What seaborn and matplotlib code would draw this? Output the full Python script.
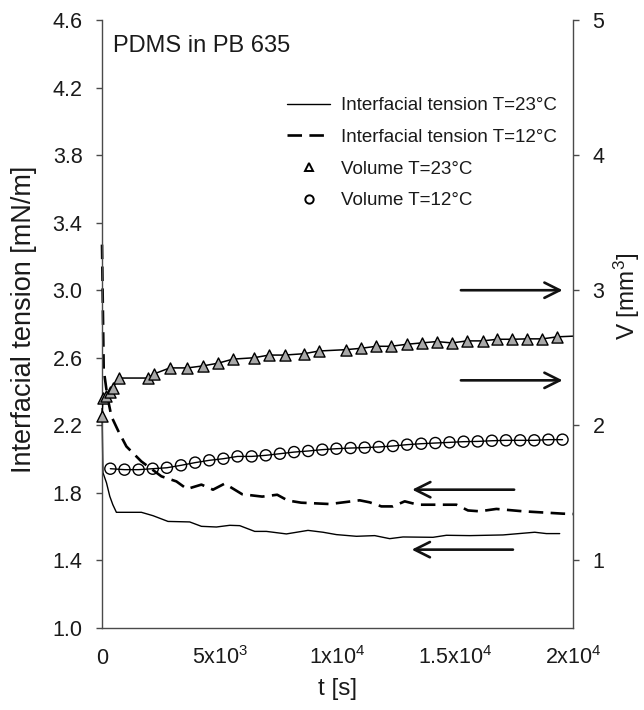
import numpy as np
import pandas as pd
import matplotlib
matplotlib.use("Agg")
import matplotlib.pyplot as plt
import seaborn as sns
from matplotlib.lines import Line2D

# ---------------- data ----------------
# Interfacial tension, T = 23 C (solid line, left axis)
ift23_t = [0, 40, 190, 330, 460, 611, 1673, 2166, 2803, 3724, 4221, 4858, 5423,
           5848, 6485, 6981, 7830, 8747, 9384, 9953, 10803, 11580, 12216, 12781,
           14055, 14624, 15614, 17028, 18374, 18871, 19435]
ift23_v = [2.30, 1.92, 1.86, 1.78, 1.73, 1.685, 1.685, 1.665, 1.631, 1.628, 1.602,
           1.598, 1.608, 1.606, 1.572, 1.572, 1.557, 1.578, 1.567, 1.553, 1.543,
           1.547, 1.529, 1.539, 1.537, 1.549, 1.547, 1.551, 1.567, 1.559, 1.559]

# Interfacial tension, T = 12 C (dashed line, left axis)
ift12_t = [0, 72, 229, 399, 679, 1036, 1673, 2522, 3159, 3609, 4221, 4713, 5210,
           5953, 6803, 7440, 7885, 8459, 9669, 10943, 11368, 11864, 12357, 12854,
           13418, 15049, 15541, 16038, 16747, 17877, 19575, 20000]
ift12_v = [3.27, 2.53, 2.37, 2.253, 2.17, 2.075, 1.986, 1.898, 1.868, 1.823, 1.849,
           1.819, 1.855, 1.792, 1.778, 1.789, 1.755, 1.742, 1.734, 1.756, 1.744,
           1.72, 1.72, 1.75, 1.730, 1.730, 1.696, 1.691, 1.705, 1.691, 1.677, 1.675]

# Volume, T = 23 C (triangles, right axis)
vol23_t = [0, 40, 185, 325, 465, 710, 1955, 2200, 2880, 3630, 4290, 4930, 5560,
           6440, 7090, 7750, 8570, 9210, 10340, 11000, 11640, 12270, 12940, 13580,
           14210, 14860, 15500, 16160, 16790, 17430, 18060, 18700, 19330]
vol23_v = [2.07, 2.20, 2.22, 2.25, 2.28, 2.35, 2.35, 2.38, 2.425, 2.425, 2.44, 2.46,
           2.49, 2.50, 2.52, 2.52, 2.53, 2.55, 2.56, 2.57, 2.585, 2.585, 2.60, 2.61,
           2.62, 2.61, 2.625, 2.625, 2.637, 2.637, 2.64, 2.64, 2.655]
# line drawn through the triangles runs on to the right edge
vol23_line_t = vol23_t + [20000]
vol23_line_v = vol23_v + [2.66]

# Volume, T = 12 C (circles, right axis)
vol12_t = [355, 955, 1555, 2155, 2755, 3355, 3955, 4555, 5155, 5755, 6355, 6955,
           7555, 8155, 8755, 9355, 9955, 10555, 11155, 11755, 12355, 12955, 13555,
           14155, 14755, 15355, 15955, 16555, 17155, 17755, 18355, 18955, 19555]
vol12_v = [1.679, 1.672, 1.672, 1.679, 1.686, 1.704, 1.724, 1.741, 1.753, 1.770,
           1.770, 1.778, 1.790, 1.802, 1.810, 1.820, 1.827, 1.832, 1.835, 1.840,
           1.847, 1.857, 1.864, 1.869, 1.874, 1.879, 1.881, 1.886, 1.889, 1.889,
           1.889, 1.894, 1.894]

# arrows: (tail t, head t, level) ; right-pointing refer to right axis
arrows_right = [(15240, 19560, 3.00), (15240, 19560, 2.333)]
arrows_left = [(17500, 13170, 1.819), (17450, 13150, 1.464)]

xticks = [0, 5000, 10000, 15000, 20000]
xticklabels = ["0", "5x10$^{3}$", "1x10$^{4}$", "1.5x10$^{4}$", "2x10$^{4}$"]
yticks_left = [1.0, 1.4, 1.8, 2.2, 2.6, 3.0, 3.4, 3.8, 4.2, 4.6]
yticks_right = [1, 2, 3, 4, 5]

legend_labels = ["Interfacial tension T=23\u00b0C", "Interfacial tension T=12\u00b0C",
                 "Volume T=23\u00b0C", "Volume T=12\u00b0C"]

# ---------------- style ----------------
sns.set_style("white")
plt.rcParams["font.family"] = ["Liberation Sans", "DejaVu Sans"]
plt.rcParams["mathtext.default"] = "regular"
plt.rcParams["axes.unicode_minus"] = False
TXT = "#1a1a1a"
SPINE = "#4a4a4a"

fig = plt.figure(figsize=(6.44, 7.10), dpi=100)
L, R, B, T = 102 / 644, 573 / 644, 1 - 628 / 710, 1 - 20 / 710
ax = fig.add_axes([L, B, R - L, T - B])
ax2 = ax.twinx()

df23 = pd.DataFrame({"t": ift23_t, "v": ift23_v})
df12 = pd.DataFrame({"t": ift12_t, "v": ift12_v})
sns.lineplot(data=df23, x="t", y="v", ax=ax, color="black", lw=1.0,
             estimator=None, sort=False, clip_on=False)
sns.lineplot(data=df12, x="t", y="v", ax=ax, color="black", lw=1.9,
             estimator=None, sort=False, dashes=False, clip_on=False)
ax.lines[-1].set_dashes((5.5, 2.8))

dv23l = pd.DataFrame({"t": vol23_line_t, "v": vol23_line_v})
dv23 = pd.DataFrame({"t": vol23_t, "v": vol23_v})
dv12 = pd.DataFrame({"t": vol12_t, "v": vol12_v})
sns.lineplot(data=dv23l, x="t", y="v", ax=ax2, color="black", lw=1.1,
             estimator=None, sort=False)
sns.lineplot(data=dv12, x="t", y="v", ax=ax2, color="black", lw=1.0,
             estimator=None, sort=False)
sns.scatterplot(data=dv23, x="t", y="v", ax=ax2, marker="^", s=64,
                facecolor="#a8a8a8", edgecolor="black", linewidth=1.0,
                clip_on=False, zorder=3)
sns.scatterplot(data=dv12, x="t", y="v", ax=ax2, marker="o", s=64,
                facecolor="none", edgecolor="black", linewidth=1.0,
                clip_on=False, zorder=3)

# arrows
aprops = dict(arrowstyle="->,head_length=1.1,head_width=0.55", lw=1.9,
              color="#111111", shrinkA=0, shrinkB=0, mutation_scale=10)
for t0, t1, lvl in arrows_right:
    ax2.annotate("", xy=(t1, lvl), xytext=(t0, lvl), arrowprops=aprops)
for t0, t1, lvl in arrows_left:
    ax.annotate("", xy=(t1, lvl), xytext=(t0, lvl), arrowprops=aprops)

# axes limits & ticks
ax.set_xlim(0, 20000)
ax.set_ylim(1.0, 4.6)
ax2.set_ylim(0.5, 5)
ax.set_xticks(xticks)
ax.set_xticklabels(xticklabels)
ax.set_yticks(yticks_left)
ax.set_yticklabels([f"{v:.1f}" for v in yticks_left])
ax2.set_yticks(yticks_right)
ax2.set_yticklabels([str(v) for v in yticks_right])

for a in (ax, ax2):
    for s in a.spines.values():
        s.set_color(SPINE)
        s.set_linewidth(1.0)
    a.spines["top"].set_visible(False)
ax.spines["right"].set_visible(False)
ax2.spines["left"].set_visible(False)
ax2.spines["bottom"].set_visible(False)

ax.tick_params(axis="y", direction="out", length=4, width=1, color=SPINE,
               labelsize=15.5, labelcolor=TXT, pad=10)
ax.tick_params(axis="x", direction="out", length=4, width=1, color=SPINE,
               labelsize=15.5, labelcolor=TXT, pad=22)
for lab in ax.get_xticklabels():
    lab.set_va("baseline")
ax2.tick_params(axis="y", direction="out", length=4, width=1, color=SPINE,
                labelsize=15.5, labelcolor=TXT, pad=10)

ax.set_xlabel("t [s]", fontsize=17.5, color=TXT)
ax.xaxis.set_label_coords(0.5, -(695 - 628) / 608)
ax.xaxis.label.set_va("baseline")
ax.set_ylabel("Interfacial tension [mN/m]", fontsize=19.5, color=TXT)
ax.yaxis.set_label_coords((37 - 102) / 471, 0.508)
ax2.set_ylabel("V [mm$^{3}$]", fontsize=17.5, color=TXT, rotation=90)
ax2.yaxis.set_label_coords((612 - 102) / 471, 0.546)

ax.text((112.7 - 102) / 471, (628 - 51.7) / 608, "PDMS in PB 635",
        transform=ax.transAxes, fontsize=17, color=TXT, va="baseline", ha="left")

handles = [
    Line2D([], [], color="black", lw=1.0),
    Line2D([], [], color="black", lw=1.9, dashes=(5.5, 2.8)),
    Line2D([], [], color="black", ls="none", marker="^", markersize=5.5,
           markerfacecolor="white", markeredgewidth=1.4),
    Line2D([], [], color="black", ls="none", marker="o", markersize=6,
           markerfacecolor="white", markeredgewidth=1.4),
]
leg = ax2.legend(handles, legend_labels, loc="upper left",
                 bbox_to_anchor=(287 / 644, 1 - 97 / 710),
                 bbox_transform=fig.transFigure, frameon=False,
                 fontsize=13.5, borderpad=0, borderaxespad=0,
                 handlelength=2.3, handletextpad=0.6, labelspacing=0.78)
for txt in leg.get_texts():
    txt.set_color(TXT)

fig.savefig("out.png", dpi=100)
